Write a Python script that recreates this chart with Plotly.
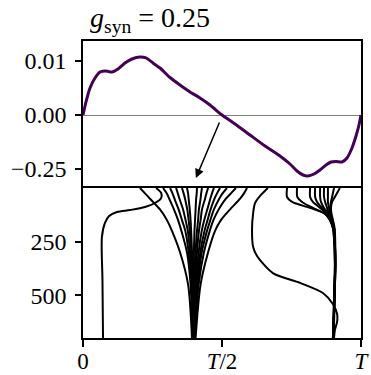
import numpy as np
import plotly.graph_objects as go

# ---------------- top panel data ----------------
PHASE_TOP = [0.0, 0.0108, 0.0252, 0.0432, 0.0612, 0.0827, 0.1043, 0.1259, 0.1511, 0.1763,
             0.2050, 0.2266, 0.2518, 0.2770, 0.3129, 0.3489, 0.3849, 0.4209, 0.4568, 0.5000,
             0.5468, 0.6007, 0.6547, 0.7086, 0.7446, 0.7698, 0.7914, 0.8094, 0.8309, 0.8525,
             0.8741, 0.8921, 0.9101, 0.9317, 0.9496, 0.9676, 0.9820, 0.9928, 1.0]
VALUE_TOP = [0.0, 0.00241, 0.00500, 0.00685, 0.00796, 0.00815, 0.00796, 0.00852, 0.00963, 0.01037,
             0.01074, 0.01056, 0.00963, 0.00870, 0.00694, 0.00556, 0.00426, 0.00315, 0.00185, 0.0,
             -0.0417, -0.0926, -0.1435, -0.1898, -0.2269, -0.2593, -0.2778, -0.2824, -0.2732, -0.2546,
             -0.2315, -0.2176, -0.2153, -0.2176, -0.1991, -0.1528, -0.0972, -0.0463, 0.0]
POS_SCALE = 25.0  # positive side of the axis is stretched (0.01 sits where 0.25 would)
Y_TICK_VALUES = [0.01, 0.0, -0.25]
Y_TICK_LABELS = ["0.01", "0.00", "\u22120.25"]

# ---------------- bottom panel data ----------------
FAN_ITER = [0, 25, 50, 100, 150, 200, 300, 450, 700]
FAN_LEFT = [
    [0.205, 0.223, 0.241, 0.277, 0.302, 0.320, 0.349, 0.378, 0.392],
    [0.288, 0.301, 0.310, 0.327, 0.342, 0.354, 0.374, 0.387, 0.394],
    [0.313, 0.322, 0.329, 0.344, 0.356, 0.368, 0.380, 0.390, 0.394],
    [0.335, 0.341, 0.347, 0.360, 0.369, 0.377, 0.385, 0.392, 0.395],
    [0.356, 0.362, 0.367, 0.375, 0.380, 0.384, 0.390, 0.393, 0.395],
    [0.374, 0.378, 0.380, 0.384, 0.387, 0.389, 0.392, 0.394, 0.395],
]
FAN_RIGHT = [
    [0.590, 0.579, 0.565, 0.529, 0.496, 0.475, 0.450, 0.423, 0.405],
    [0.550, 0.532, 0.514, 0.488, 0.469, 0.456, 0.435, 0.416, 0.402],
    [0.518, 0.502, 0.490, 0.471, 0.458, 0.446, 0.427, 0.413, 0.401],
    [0.493, 0.482, 0.473, 0.459, 0.448, 0.437, 0.422, 0.410, 0.400],
    [0.471, 0.464, 0.458, 0.447, 0.436, 0.427, 0.416, 0.407, 0.399],
    [0.450, 0.444, 0.439, 0.428, 0.423, 0.417, 0.410, 0.403, 0.398],
    [0.428, 0.425, 0.423, 0.417, 0.414, 0.410, 0.405, 0.400, 0.398],
    [0.410, 0.409, 0.407, 0.405, 0.403, 0.401, 0.399, 0.398, 0.397],
]
GROUP_ITER = [0, 42, 65, 93, 121, 149, 187, 345, 523, 700]
GROUP_RIGHT = [
    [0.734, 0.734, 0.752, 0.817, 0.871, 0.888, 0.899, 0.906, 0.903, 0.899],
    [0.770, 0.771, 0.788, 0.827, 0.871, 0.888, 0.899, 0.906, 0.903, 0.899],
    [0.817, 0.817, 0.827, 0.853, 0.878, 0.892, 0.901, 0.908, 0.904, 0.900],
    [0.835, 0.835, 0.842, 0.860, 0.881, 0.892, 0.901, 0.908, 0.904, 0.900],
    [0.853, 0.853, 0.856, 0.867, 0.883, 0.894, 0.903, 0.907, 0.904, 0.901],
    [0.867, 0.867, 0.871, 0.878, 0.885, 0.896, 0.903, 0.907, 0.904, 0.901],
    [0.881, 0.881, 0.881, 0.885, 0.888, 0.896, 0.903, 0.907, 0.904, 0.901],
    [0.903, 0.896, 0.892, 0.890, 0.892, 0.897, 0.903, 0.907, 0.904, 0.901],
    [0.924, 0.906, 0.896, 0.892, 0.894, 0.899, 0.905, 0.908, 0.905, 0.902],
]
LEFT_LINE_ITER = [0, 23, 47, 70, 89, 103, 112, 131, 163, 229, 429, 700]
LEFT_LINE_PHASE = [0.263, 0.281, 0.281, 0.259, 0.223, 0.169, 0.122, 0.094, 0.079, 0.068, 0.070, 0.072]
SWITCH_LINE_ITER = [0, 37, 70, 117, 196, 275, 317, 397, 443, 490, 541, 588, 625, 663, 700]
SWITCH_LINE_PHASE = [0.665, 0.637, 0.619, 0.612, 0.608, 0.612, 0.626, 0.683, 0.781, 0.863,
                     0.899, 0.914, 0.914, 0.906, 0.903]
X_TICK_VALUES = [0, 0.5, 1]
X_TICK_LABELS = ["0", "<i>T</i>/2", "<i>T</i>"]
Y2_TICK_VALUES = [250, 500]

ARROW_TAIL = (0.493, -0.028)
ARROW_HEAD = (0.406, -0.292)

PURPLE = "#440154"
FONT = "Liberation Serif"


def stretch(v):
    v = np.asarray(v, dtype=float)
    return np.where(v > 0, v * POS_SCALE, v)


fig = go.Figure()
fig.add_trace(go.Scatter(x=PHASE_TOP, y=stretch(VALUE_TOP), mode="lines",
                         line=dict(color=PURPLE, width=3, shape="spline", smoothing=0.6),
                         xaxis="x", yaxis="y", showlegend=False))

line_style = dict(color="black", width=2, shape="spline", smoothing=0.8)
for ph in FAN_LEFT + FAN_RIGHT:
    fig.add_trace(go.Scatter(x=ph, y=FAN_ITER, mode="lines", line=line_style,
                             xaxis="x2", yaxis="y2", showlegend=False))
for ph in GROUP_RIGHT:
    fig.add_trace(go.Scatter(x=ph, y=GROUP_ITER, mode="lines", line=line_style,
                             xaxis="x2", yaxis="y2", showlegend=False))
fig.add_trace(go.Scatter(x=LEFT_LINE_PHASE, y=LEFT_LINE_ITER, mode="lines", line=line_style,
                         xaxis="x2", yaxis="y2", showlegend=False))
fig.add_trace(go.Scatter(x=SWITCH_LINE_PHASE, y=SWITCH_LINE_ITER, mode="lines", line=line_style,
                         xaxis="x2", yaxis="y2", showlegend=False))

split = 150 / 297
axis_common = dict(showline=True, linecolor="black", linewidth=1.5, mirror=True,
                   showgrid=False, ticks="outside", tickwidth=1.5, tickcolor="black",
                   automargin=False)

fig.update_layout(
    width=371, height=375,
    margin=dict(l=83, r=10, t=41, b=37, autoexpand=False),
    paper_bgcolor="white", plot_bgcolor="white",
    xaxis=dict(domain=[0, 1], range=[0, 1], anchor="y", side="top", showticklabels=False,
               showline=True, linecolor="black", linewidth=1.5, mirror=False,
               showgrid=False, zeroline=False, ticks="", automargin=False),
    yaxis=dict(domain=[split, 1], range=[-0.338, 0.3426], anchor="x",
               tickvals=list(stretch(Y_TICK_VALUES)), ticktext=Y_TICK_LABELS,
               tickfont=dict(family=FONT, size=24, color="black"),
               ticklen=6, ticklabelstandoff=4, zeroline=True, zerolinecolor="#808080",
               zerolinewidth=1, **axis_common),
    xaxis2=dict(domain=[0, 1], range=[0, 1], anchor="y2", tickvals=X_TICK_VALUES,
                ticktext=X_TICK_LABELS, ticklen=7, ticklabelstandoff=-5, zeroline=False,
                tickfont=dict(family=FONT, size=23, color="black"), **axis_common),
    yaxis2=dict(domain=[0, split], range=[700, 0], anchor="x2", tickvals=Y2_TICK_VALUES,
                tickfont=dict(family=FONT, size=24, color="black"),
                ticklen=6, ticklabelstandoff=4, zeroline=False, **axis_common),
    annotations=[
        dict(text="<i>g</i><sub>syn</sub> = 0.25", xref="paper", yref="paper",
             x=0.018, y=1.072, xanchor="left", yanchor="middle", showarrow=False,
             font=dict(family=FONT, size=28, color="black")),
        dict(x=ARROW_HEAD[0], y=ARROW_HEAD[1], ax=ARROW_TAIL[0], ay=ARROW_TAIL[1],
             xref="x", yref="y", axref="x", ayref="y", text="", showarrow=True,
             arrowhead=2, arrowsize=1.2, arrowwidth=1.5, arrowcolor="black", standoff=0),
    ],
)

fig.write_html("out.html")
